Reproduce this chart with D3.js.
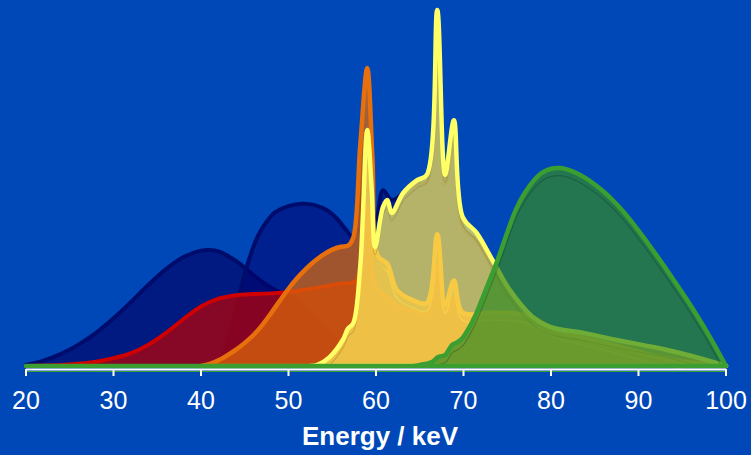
<!DOCTYPE html>
<html><head><meta charset="utf-8">
<script src="https://cdn.jsdelivr.net/npm/d3@7/dist/d3.min.js"></script>
<style>html,body{margin:0;padding:0;background:#0048b8;overflow:hidden}svg{display:block}</style>
</head><body><svg id="chart" width="751" height="455"></svg>
<script>
// ---- data (energy in keV, relative intensity) ----
const navy1Energy = [20, 22, 24, 26, 28, 30, 32, 34, 36, 38, 40, 41, 42, 44, 46, 48, 50, 52, 54, 56, 58, 60, 62];
const navy1Counts = [0.3, 1.5, 3.4, 6, 9.3, 13.4, 18, 22.8, 27.2, 30.6, 32.4, 32.6, 32.2, 29.5, 25.5, 22, 19.5, 16, 11, 6, 2.5, 0.5, 0];

const navy2Energy = [41.5, 42.5, 43.3, 44, 44.7, 45.5, 46.5, 47.5, 48.5, 50, 51.5, 53, 54.5, 55.5, 56.5, 57.3, 58.3, 59.0, 59.6, 60.0, 60.8, 61.8, 63.5, 64.2, 65.8, 67.0, 67.9, 68.9, 69.9, 71.5, 73.3, 75.3, 77.9, 80, 84, 88, 93, 99, 100];
const navy2Counts = [0, 3, 9, 16, 23, 30, 36.5, 40.5, 43.2, 44.9, 45.6, 45.2, 43.6, 41.5, 38.5, 36.5, 47, 58, 43, 41, 49.4, 46.6, 49.4, 50.8, 52, 90, 51, 64, 39, 35, 27.5, 19, 12, 9.5, 8, 6, 3.5, 0.5, 0];

const redEnergy = [20, 24, 28, 30, 32, 34, 36, 38, 40, 42, 44, 46, 48, 50, 52, 54, 56, 57.7, 59.0, 60, 61, 62.4, 64, 66, 67, 68, 69, 70, 73, 76, 80, 85, 90, 95, 100];
const redCounts = [0, 0.3, 1.2, 2.2, 3.6, 6, 9.3, 13.2, 16.7, 18.9, 19.9, 20.2, 20.4, 20.8, 21.5, 22.3, 23.2, 23.9, 45, 22, 20, 17, 15.5, 15, 28, 14.5, 19, 13.5, 13.5, 12.5, 9, 6, 3.5, 1.5, 0];

const orangeEnergy = [40, 41, 42, 43, 44, 45, 46, 47, 48, 49, 50, 51, 52, 53, 54, 55, 56, 56.8, 57.4, 58.2, 59.0, 59.6, 60.2, 61.3, 62.4, 64.2, 65.8, 67.0, 67.9, 68.9, 69.9, 73.3, 77.2, 80.6, 86.3, 93.9, 100];
const orangeCounts = [0, 0.6, 1.6, 3, 4.6, 6.5, 8.7, 11.5, 14.8, 18.3, 21.7, 24.7, 27.3, 29.5, 31.3, 32.7, 33.5, 33.8, 36, 62, 83.7, 58, 31, 28.7, 21.3, 18.5, 17.7, 37, 17, 24, 15, 15, 14.3, 10.1, 6.5, 1.7, 0];

const yellowEnergy = [52.5, 53.3, 54.7, 56.2, 56.8, 57.4, 58.2, 59.0, 59.5, 59.9, 60.8, 61.3, 61.8, 63.1, 64.7, 65.8, 67.0, 67.9, 68.9, 69.9, 71.5, 73.3, 75.3, 77.9, 79.9, 83.7, 87.5, 93.3, 99.0, 100];
const yellowCounts = [0, 0.3, 2.5, 7.3, 10.5, 12, 28, 66.3, 50, 33.4, 44.7, 46.6, 43, 48.6, 52.2, 53.7, 100, 53.7, 69, 41.9, 37.4, 29.8, 21.3, 13.8, 11, 9.3, 7.3, 4.5, 0.8, 0];

const greenEnergy = [20, 64, 65.03, 66.4, 67.1, 67.9, 68.7, 69.3, 69.9, 70.7, 71.5, 72, 73, 74, 75, 76, 77, 78, 79, 80, 81, 82, 83, 84, 85, 86, 87, 88, 89, 90, 91.3, 93, 95.1, 96.5, 98.2, 100];
const greenCounts = [0, 0, 0.3, 1.1, 2.5, 3.1, 5.9, 6.7, 7.9, 11, 15, 18, 24.2, 30.5, 37.5, 44, 48.6, 52, 54.3, 55.4, 55.6, 55.1, 54.1, 52.7, 51, 49, 46.7, 44.1, 41.2, 38, 33.7, 27.8, 20.2, 14.9, 8.0, 0];

const xTicks = [20, 30, 40, 50, 60, 70, 80, 90, 100];
const xTitle = "Energy / keV";

// ---- styles ----
const seriesList = [
  {e: navy1Energy, v: navy1Counts, fill: "rgba(0,0,100,0.64)", stroke: "#000c6c", w: 4, shade: null, shadeFrom: 0},
  {e: navy2Energy, v: navy2Counts, fill: "rgba(0,0,110,0.55)", stroke: "#000c6c", w: 4, shade: null, shadeFrom: 0},
  {e: redEnergy, v: redCounts, fill: "rgba(193,0,0,0.70)", stroke: "#d00000", w: 4, shade: null, shadeFrom: 0},
  {e: orangeEnergy, v: orangeCounts, fill: "rgba(222,106,10,0.72)", stroke: "#e8700c", w: 4.5, shade: "rgba(255,215,60,0.45)", shadeFrom: 60},
  {e: yellowEnergy, v: yellowCounts, fill: "rgba(255,240,92,0.71)", stroke: "#ffff66", w: 4.5, shade: "rgba(120,110,40,0.28)", shadeFrom: 0},
  {e: greenEnergy, v: greenCounts, fill: "rgba(50,138,35,0.70)", stroke: "#3a9e30", w: 4.5, shade: "rgba(0,40,20,0.25)", shadeFrom: 0}
];

const svg = d3.select("#chart");
svg.append("rect").attr("width", 751).attr("height", 455).attr("fill", "#0048b8");

const x = d3.scaleLinear().domain([20, 100]).range([26, 726]);
const y = d3.scaleLinear().domain([0, 100]).range([366, 10]);

const defs = svg.append("defs");
defs.append("clipPath").attr("id", "plotClip").append("rect")
  .attr("x", 0).attr("y", 0).attr("width", 751).attr("height", 368.5);

const curve = d3.curveCatmullRom.alpha(0.5);
const area = d3.area().x(d => x(d[0])).y0(y(0)).y1(d => Math.min(y(0), y(d[1]))).curve(curve);
const line = d3.line().x(d => x(d[0])).y(d => y(d[1])).curve(curve);

const plot = svg.append("g").attr("clip-path", "url(#plotClip)");
seriesList.forEach((s, k) => {
  const pts = s.e.map((e, i) => [e, s.v[i]]);
  const g = plot.append("g");
  g.append("path").attr("d", area(pts)).attr("fill", s.fill);
  if (s.shade) {
    const cid = "sc" + k;
    defs.append("clipPath").attr("id", cid).append("path").attr("d", area(pts));
    g.append("path").attr("d", line(pts.filter(p => p[0] >= s.shadeFrom))).attr("transform", "translate(0,7)")
      .attr("clip-path", "url(#" + cid + ")")
      .attr("fill", "none").attr("stroke", s.shade).attr("stroke-width", 2.5)
      .attr("stroke-linejoin", "round");
  }
  g.append("path").attr("d", line(pts) + "L" + x(s.e[0]) + "," + y(0) + "Z")
    .attr("fill", "none").attr("stroke", s.stroke).attr("stroke-width", s.w)
    .attr("stroke-linejoin", "round").attr("stroke-linecap", "round");
});

// axis
const axisG = svg.append("g");
axisG.append("line").attr("x1", x(20)).attr("x2", x(100)).attr("y1", 369.5).attr("y2", 369.5)
  .attr("stroke", "#ffffff").attr("stroke-width", 2);
axisG.append("line").attr("x1", x(20)).attr("x2", x(100)).attr("y1", 371.5).attr("y2", 371.5)
  .attr("stroke", "#3a9e30").attr("stroke-width", 1);
axisG.selectAll("line.tick").data(xTicks).enter().append("line").attr("class", "tick")
  .attr("x1", d => x(d)).attr("x2", d => x(d)).attr("y1", 369).attr("y2", 376)
  .attr("stroke", "#ffffff").attr("stroke-width", 2);
axisG.selectAll("text.tl").data(xTicks).enter().append("text").attr("class", "tl")
  .attr("x", d => x(d)).attr("y", 409).attr("text-anchor", "middle")
  .attr("font-family", "Liberation Sans, Arial, sans-serif").attr("font-size", 25)
  .attr("fill", "#ffffff").text(d => d);
svg.append("text").attr("x", 380).attr("y", 445).attr("text-anchor", "middle")
  .attr("font-family", "Liberation Sans, Arial, sans-serif").attr("font-size", 26)
  .attr("font-weight", "bold").attr("fill", "#ffffff").text(xTitle);
</script></body></html>
